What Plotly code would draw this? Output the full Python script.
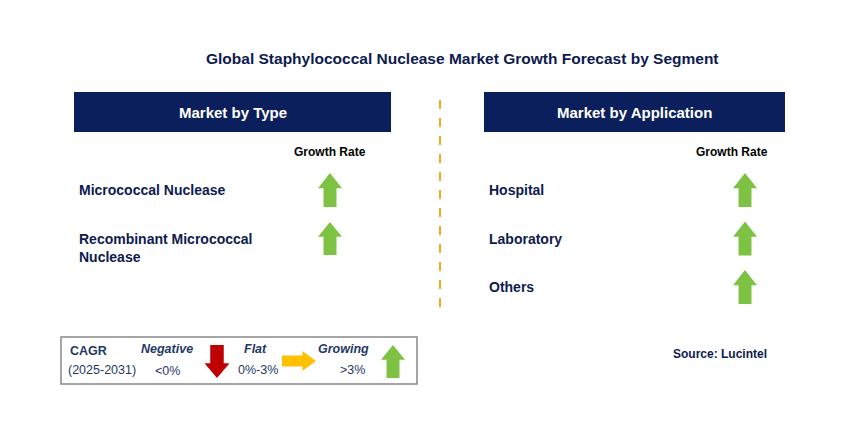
import plotly.graph_objects as go

title = "Global Staphylococcal Nuclease Market Growth Forecast by Segment"
type_header = "Market by Type"
app_header = "Market by Application"
type_items = ["Micrococcal Nuclease", "Recombinant Micrococcal<br>Nuclease"]
type_growth = ["Growing", "Growing"]
app_items = ["Hospital", "Laboratory", "Others"]
app_growth = ["Growing", "Growing", "Growing"]
source = "Source: Lucintel"

NAVY = "#0b1f5c"
TXT = "#0d1b4f"
LEG = "#1f3864"
GREEN = "#7dc242"

fig = go.Figure()
shapes, ann = [], []

def up_arrow(cx, y0, y1, w, color):
    h = y1 - y0
    hh = h * 0.45
    s = w * 0.27
    p = (f"M{cx},{y0} L{cx+w/2},{y0+hh} L{cx+s},{y0+hh} L{cx+s},{y1} "
         f"L{cx-s},{y1} L{cx-s},{y0+hh} L{cx-w/2},{y0+hh} Z")
    return dict(type="path", path=p, fillcolor=color, line=dict(width=0), xref="x", yref="y")

def down_arrow(cx, y0, y1, w, color):
    h = y1 - y0
    hh = h * 0.45
    s = w * 0.27
    p = (f"M{cx},{y1} L{cx+w/2},{y1-hh} L{cx+s},{y1-hh} L{cx+s},{y0} "
         f"L{cx-s},{y0} L{cx-s},{y1-hh} L{cx-w/2},{y1-hh} Z")
    return dict(type="path", path=p, fillcolor=color, line=dict(width=0), xref="x", yref="y")

def right_arrow(x0, x1, cy, h, color):
    hw = (x1 - x0) * 0.4
    s = h * 0.27
    p = (f"M{x1},{cy} L{x1-hw},{cy-h/2} L{x1-hw},{cy-s} L{x0},{cy-s} "
         f"L{x0},{cy+s} L{x1-hw},{cy+s} L{x1-hw},{cy+h/2} Z")
    return dict(type="path", path=p, fillcolor=color, line=dict(width=0), xref="x", yref="y")

def text(x, y, t, size=13, color=TXT, bold=True, italic=False, xanchor="left", family="Arial"):
    s = t
    if bold: s = f"<b>{s}</b>"
    if italic: s = f"<i>{s}</i>"
    ann.append(dict(x=x, y=y, text=s, showarrow=False, xanchor=xanchor, yanchor="middle",
                    font=dict(size=size, color=color, family=family), xref="x", yref="y", align="left"))

text(462, 58, title, size=15.5, xanchor="center")

for x0, x1, h in [(74, 391, type_header), (484, 785, app_header)]:
    shapes.append(dict(type="rect", x0=x0, x1=x1, y0=92, y1=132, fillcolor=NAVY, line=dict(width=0), xref="x", yref="y"))
    text((x0 + x1) / 2, 112, h, size=15, color="white", xanchor="center")

shapes.append(dict(type="line", x0=440, x1=440, y0=100, y1=310, line=dict(color="#f5a623", width=2, dash="dash"), xref="x", yref="y"))

text(330, 152, "Growth Rate", size=12, color="black", xanchor="center")
text(732, 152, "Growth Rate", size=12, color="black", xanchor="center")

ty = [190, 248]
ay = [(173, 207), (222, 255)]
for t, g, y, a in zip(type_items, type_growth, ty, ay):
    text(77, y, t, size=14)
    if g == "Growing":
        shapes.append(up_arrow(330, a[0], a[1], 24, GREEN))

for i, (t, g) in enumerate(zip(app_items, app_growth)):
    y = 190 + 48.5 * i
    text(487, y, t, size=14)
    if g == "Growing":
        shapes.append(up_arrow(745, y - 17, y + 17, 24, GREEN))

# legend
shapes.append(dict(type="rect", x0=61, x1=417, y0=337, y1=384, fillcolor="white", line=dict(color="#888", width=1.5), xref="x", yref="y"))
text(68, 351, "CAGR", size=12.5, color=LEG)
text(66, 370, "(2025-2031)", size=12.5, color=LEG, bold=False)
text(167, 349, "Negative", size=12.5, italic=True, xanchor="center", color=LEG)
text(167, 371, "<0%", size=12.5, bold=False, xanchor="center", color=LEG)
shapes.append(down_arrow(217, 345, 378, 25, "#c00000"))
text(255, 349, "Flat", size=12.5, italic=True, xanchor="center", color=LEG)
text(258, 370, "0%-3%", size=12.5, bold=False, xanchor="center", color=LEG)
shapes.append(right_arrow(282, 316, 361, 20, "#ffc000"))
text(343, 349, "Growing", size=12.5, italic=True, xanchor="center", color=LEG)
text(352, 370, ">3%", size=12.5, bold=False, xanchor="center", color=LEG)
shapes.append(up_arrow(393, 345, 378, 24, GREEN))

text(720, 354, source, size=12, color=TXT, xanchor="center")

# compensate 8px page margin offset
fig.update_layout(width=849, height=437, margin=dict(l=0, r=0, t=0, b=0),
                  paper_bgcolor="white", plot_bgcolor="white",
                  xaxis=dict(range=[8, 857], visible=False, fixedrange=True),
                  yaxis=dict(range=[445, 8], visible=False, fixedrange=True),
                  shapes=shapes, annotations=ann, showlegend=False)
fig.write_html("out.html")
